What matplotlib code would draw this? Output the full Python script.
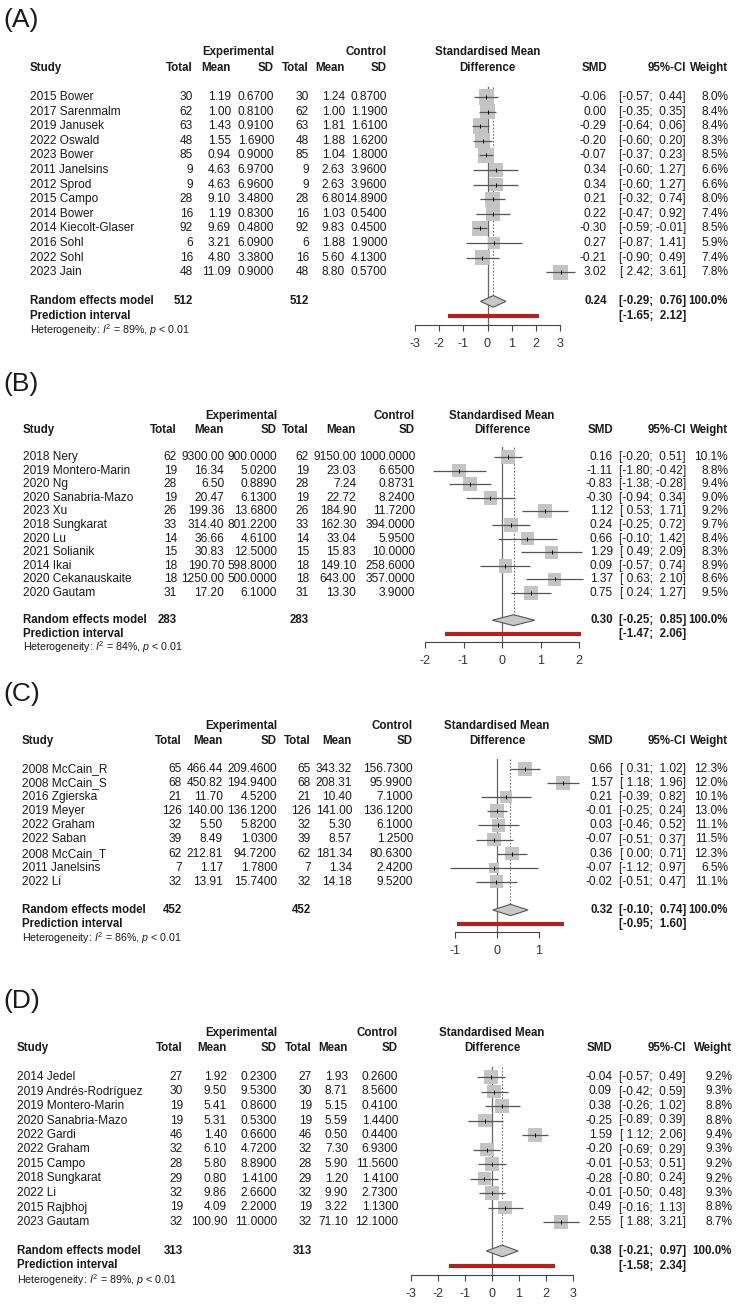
import matplotlib
matplotlib.use("Agg")
import numpy as np
import matplotlib.pyplot as plt
from matplotlib.patches import Polygon

plt.rcParams['font.family'] = ['Liberation Sans', 'DejaVu Sans']
plt.rcParams['mathtext.fontset'] = 'custom'
plt.rcParams['mathtext.rm'] = 'Liberation Sans'
plt.rcParams['mathtext.it'] = 'Liberation Sans:italic'
plt.rcParams['axes.unicode_minus'] = False

# ---- Panel A ----
a_study = ["2015 Bower", "2017 Sarenmalm", "2019 Janusek", "2022 Oswald", "2023 Bower",
           "2011 Janelsins", "2012 Sprod", "2015 Campo", "2014 Bower", "2014 Kiecolt-Glaser",
           "2016 Sohl", "2022 Sohl", "2023 Jain"]
a_n = [30, 62, 63, 48, 85, 9, 9, 28, 16, 92, 6, 16, 48]  # same n in both arms
a_mean_e = [1.19, 1.00, 1.43, 1.55, 0.94, 4.63, 4.63, 9.10, 1.19, 9.69, 3.21, 4.80, 11.09]
a_sd_e = [0.67, 0.81, 0.91, 1.69, 0.90, 6.97, 6.96, 3.48, 0.83, 0.48, 6.09, 3.38, 0.90]
a_mean_c = [1.24, 1.00, 1.81, 1.88, 1.04, 2.63, 2.63, 6.80, 1.03, 9.83, 1.88, 5.60, 8.80]
a_sd_c = [0.87, 1.19, 1.61, 1.62, 1.80, 3.96, 3.96, 14.89, 0.54, 0.45, 1.90, 4.13, 0.57]
a_smd = [-0.06, 0.00, -0.29, -0.20, -0.07, 0.34, 0.34, 0.21, 0.22, -0.30, 0.27, -0.21, 3.02]
a_lo = [-0.57, -0.35, -0.64, -0.60, -0.37, -0.60, -0.60, -0.32, -0.47, -0.59, -0.87, -0.90, 2.42]
a_hi = [0.44, 0.35, 0.06, 0.20, 0.23, 1.27, 1.27, 0.74, 0.92, -0.01, 1.41, 0.49, 3.61]
a_w = [8.0, 8.4, 8.4, 8.3, 8.5, 6.6, 6.6, 8.0, 7.4, 8.5, 5.9, 7.4, 7.8]
a_pool = [0.24, -0.29, 0.76]
a_pred = [-1.65, 2.12]
a_i2 = 89

# ---- Panel B ----
b_study = ["2018 Nery", "2019 Montero-Marin", "2020 Ng", "2020 Sanabria-Mazo", "2023 Xu",
           "2018 Sungkarat", "2020 Lu", "2021 Solianik", "2014 Ikai", "2020 Cekanauskaite",
           "2020 Gautam"]
b_n = [62, 19, 28, 19, 26, 33, 14, 15, 18, 18, 31]
b_mean_e = [9300.00, 16.34, 6.50, 20.47, 199.36, 314.40, 36.66, 30.83, 190.70, 1250.00, 17.20]
b_sd_e = [900.0, 5.02, 0.889, 6.13, 13.68, 801.22, 4.61, 12.50, 598.80, 500.0, 6.10]
b_mean_c = [9150.00, 23.03, 7.24, 22.72, 184.90, 162.30, 33.04, 15.83, 149.10, 643.00, 13.30]
b_sd_c = [1000.0, 6.65, 0.8731, 8.24, 11.72, 394.0, 5.95, 10.0, 258.60, 357.0, 3.90]
b_smd = [0.16, -1.11, -0.83, -0.30, 1.12, 0.24, 0.66, 1.29, 0.09, 1.37, 0.75]
b_lo = [-0.20, -1.80, -1.38, -0.94, 0.53, -0.25, -0.10, 0.49, -0.57, 0.63, 0.24]
b_hi = [0.51, -0.42, -0.28, 0.34, 1.71, 0.72, 1.42, 2.09, 0.74, 2.10, 1.27]
b_w = [10.1, 8.8, 9.4, 9.0, 9.2, 9.7, 8.4, 8.3, 8.9, 8.6, 9.5]
b_pool = [0.30, -0.25, 0.85]
b_pred = [-1.47, 2.06]
b_i2 = 84

# ---- Panel C ----
c_study = ["2008 McCain_R", "2008 McCain_S", "2016 Zgierska", "2019 Meyer", "2022 Graham",
           "2022 Saban", "2008 McCain_T", "2011 Janelsins", "2022 Li"]
c_n = [65, 68, 21, 126, 32, 39, 62, 7, 32]
c_mean_e = [466.44, 450.82, 11.70, 140.00, 5.50, 8.49, 212.81, 1.17, 13.91]
c_sd_e = [209.46, 194.94, 4.52, 136.12, 5.82, 1.03, 94.72, 1.78, 15.74]
c_mean_c = [343.32, 208.31, 10.40, 141.00, 5.30, 8.57, 181.34, 1.34, 14.18]
c_sd_c = [156.73, 95.99, 7.10, 136.12, 6.10, 1.25, 80.63, 2.42, 9.52]
c_smd = [0.66, 1.57, 0.21, -0.01, 0.03, -0.07, 0.36, -0.07, -0.02]
c_lo = [0.31, 1.18, -0.39, -0.25, -0.46, -0.51, 0.00, -1.12, -0.51]
c_hi = [1.02, 1.96, 0.82, 0.24, 0.52, 0.37, 0.71, 0.97, 0.47]
c_w = [12.3, 12.0, 10.1, 13.0, 11.1, 11.5, 12.3, 6.5, 11.1]
c_pool = [0.32, -0.10, 0.74]
c_pred = [-0.95, 1.60]
c_i2 = 86

# ---- Panel D ----
d_study = ["2014 Jedel", "2019 Andrés-Rodríguez", "2019 Montero-Marin", "2020 Sanabria-Mazo",
           "2022 Gardi", "2022 Graham", "2015 Campo", "2018 Sungkarat", "2022 Li",
           "2015 Rajbhoj", "2023 Gautam"]
d_n = [27, 30, 19, 19, 46, 32, 28, 29, 32, 19, 32]
d_mean_e = [1.92, 9.50, 5.41, 5.31, 1.40, 6.10, 5.80, 0.80, 9.86, 4.09, 100.90]
d_sd_e = [0.23, 9.53, 0.86, 0.53, 0.66, 4.72, 8.89, 1.41, 2.66, 2.20, 11.00]
d_mean_c = [1.93, 8.71, 5.15, 5.59, 0.50, 7.30, 5.90, 1.20, 9.90, 3.22, 71.10]
d_sd_c = [0.26, 8.56, 0.41, 1.44, 0.44, 6.93, 11.56, 1.41, 2.73, 1.13, 12.10]
d_smd = [-0.04, 0.09, 0.38, -0.25, 1.59, -0.20, -0.01, -0.28, -0.01, 0.49, 2.55]
d_lo = [-0.57, -0.42, -0.26, -0.89, 1.12, -0.69, -0.53, -0.80, -0.50, -0.16, 1.88]
d_hi = [0.49, 0.59, 1.02, 0.39, 2.06, 0.29, 0.51, 0.24, 0.48, 1.13, 3.21]
d_w = [9.2, 9.3, 8.8, 8.8, 9.4, 9.3, 9.2, 9.2, 9.3, 8.8, 8.7]
d_pool = [0.38, -0.21, 0.97]
d_pred = [-1.58, 2.34]
d_i2 = 89

W, H = 745, 1310
TXT = '#1a1a1a'
FS = 8.6     # regular table text
FSB = 8.3    # bold header / pooled text

fig = plt.figure(figsize=(W / 100, H / 100), dpi=100)
bg = fig.add_axes([0, 0, 1, 1])
bg.set_xlim(0, W)
bg.set_ylim(H, 0)
bg.axis('off')


def txt(x, y, s, ha='right', bold=False, size=None):
    if size is None:
        size = FSB if bold else FS
    bg.text(x, y, s, ha=ha, va='center', fontsize=size, color=TXT,
            fontweight='bold' if bold else 'normal')


def ci_str(lo, hi):
    return "[{:5.2f}; {:5.2f}]".format(lo, hi)


# Function to draw one forest plot panel (table on the left, plot, stats on the right)
def draw_panel(label, study, n, mean_e, sd_e, mean_c, sd_c, smd, lo, hi, w, pool, pred, i2, lay):
    y0, dy = lay['y0'], lay['dy']
    sx = lay['sx']
    ne, me, se, nc, mc, sc = lay['cols']
    k = len(study)

    # header
    h1, h2 = y0 - 3.05 * dy, y0 - 2.0 * dy
    bg.text(3, h1 - 32, label, ha='left', va='center', fontsize=19, color=TXT)
    txt(se, h1, "Experimental", bold=True)
    txt(sc, h1, "Control", bold=True)
    txt(sx, h2, "Study", ha='left', bold=True)
    for x, s in zip([ne, me, se, nc, mc, sc], ["Total", "Mean", "SD", "Total", "Mean", "SD"]):
        txt(x, h2, s, bold=True)
    txt(lay['z'], h1, "Standardised Mean", ha='center', bold=True)
    txt(lay['z'], h2, "Difference", ha='center', bold=True)
    txt(lay['smd_r'], h2, "SMD", bold=True)
    txt(lay['ci_r'], h2, "95%-CI", bold=True)
    txt(lay['w_r'], h2, "Weight", bold=True)

    # study rows
    for i in range(k):
        y = y0 + i * dy
        txt(sx, y, study[i], ha='left')
        txt(ne, y, "%d" % n[i])
        txt(me, y, "%.2f" % mean_e[i])
        txt(se, y, "%.4f" % sd_e[i])
        txt(nc, y, "%d" % n[i])
        txt(mc, y, "%.2f" % mean_c[i])
        txt(sc, y, "%.4f" % sd_c[i])
        txt(lay['smd_r'], y, "%.2f" % smd[i])
        txt(lay['ci_r'], y, ci_str(lo[i], hi[i]))
        txt(lay['w_r'], y, "%.1f%%" % w[i])

    # pooled rows
    yr = y0 + (k + 1) * dy
    txt(sx, yr, "Random effects model", ha='left', bold=True)
    txt(ne, yr, "%d" % sum(n), bold=True)
    txt(nc, yr, "%d" % sum(n), bold=True)
    txt(lay['smd_r'], yr, "%.2f" % pool[0], bold=True)
    txt(lay['ci_r'], yr, ci_str(pool[1], pool[2]), bold=True)
    txt(lay['w_r'], yr, "100.0%", bold=True)
    txt(sx, yr + dy, "Prediction interval", ha='left', bold=True)
    txt(lay['ci_r'], yr + dy, ci_str(pred[0], pred[1]), bold=True)
    txt(sx, yr + 2 * dy, r"Heterogeneity: $I^2$ = %d%%, $p$ < 0.01" % i2, ha='left', size=7.7)

    # forest axes, rows in data units
    z, u = lay['z'], lay['u']
    xlo, xhi = lay['xlim']
    top_px = y0 - dy
    ax_y = lay['axis_y']
    fa = fig.add_axes([(z + xlo * u) / W, 1 - ax_y / H, (xhi - xlo) * u / W, (ax_y - top_px) / H])
    ybot = (ax_y - y0) / dy
    fa.set_xlim(xlo, xhi)
    fa.set_ylim(ybot, -1)
    fa.patch.set_alpha(0)
    for s in ['top', 'right', 'left']:
        fa.spines[s].set_visible(False)
    ticks = lay['ticks']
    fa.spines['bottom'].set_bounds(ticks[0], ticks[-1])
    fa.spines['bottom'].set_color('#444444')
    fa.spines['bottom'].set_linewidth(0.8)
    fa.set_xticks(ticks)
    fa.set_xticklabels([str(t) for t in ticks])
    fa.set_yticks([])
    fa.tick_params(axis='x', direction='out', length=4.5, width=0.8, colors='#444444',
                   labelsize=9, pad=5, labelcolor='#333333')

    rows = np.arange(k)
    wa = np.array(w)
    side = lay['sq'] * np.sqrt(wa / wa.max()) * 0.72
    fa.plot([0, 0], [-0.7, ybot], color='#666666', lw=0.9, clip_on=False, zorder=1)
    fa.plot([pool[0], pool[0]], [-0.7, k + 0.6], color='#777777', lw=0.8,
            ls=(0, (1.5, 1.5)), zorder=1)
    fa.scatter(smd, rows, s=side ** 2, marker='s', color='#c4c4c4', linewidths=0, zorder=2)
    fa.hlines(rows, lo, hi, color='#555555', lw=0.9, zorder=3)
    fa.plot(smd, rows, ls='none', marker='|', ms=3, mew=0.7, color='black', zorder=4)

    r = k + 1
    dia = Polygon([(pool[1], r), (pool[0], r - 0.4), (pool[2], r), (pool[0], r + 0.4)],
                  closed=True, facecolor='#c8c8c8', edgecolor='#555555', lw=0.8, zorder=3)
    fa.add_patch(dia)
    fa.plot(pred, [r + 1, r + 1], color='#b22222', lw=3, solid_capstyle='butt', zorder=3)


lay_a = dict(y0=97, dy=14.6, sx=30, cols=[193, 231, 274, 309, 345, 387],
             smd_r=607, ci_r=686, w_r=728, z=487.5, u=24.2, xlim=(-3.4, 3.9),
             ticks=[-3, -2, -1, 0, 1, 2, 3], axis_y=325, sq=15.5)
lay_b = dict(y0=457, dy=13.6, sx=23, cols=[177, 224, 277, 309, 356, 415],
             smd_r=613, ci_r=686, w_r=728, z=502, u=38.5, xlim=(-2.3, 2.3),
             ticks=[-2, -1, 0, 1, 2], axis_y=642, sq=14.5)
lay_c = dict(y0=769, dy=14.1, sx=22, cols=[182, 223, 277, 311, 352, 413],
             smd_r=613, ci_r=686, w_r=728, z=497, u=42, xlim=(-1.3, 2.1),
             ticks=[-1, 0, 1], axis_y=932, sq=14)
lay_d = dict(y0=1077, dy=14.5, sx=17, cols=[183, 227, 277, 312, 348, 398],
             smd_r=612, ci_r=686, w_r=732, z=492, u=27, xlim=(-3.3, 3.5),
             ticks=[-3, -2, -1, 0, 1, 2, 3], axis_y=1275, sq=14)

draw_panel("(A)", a_study, a_n, a_mean_e, a_sd_e, a_mean_c, a_sd_c, a_smd, a_lo, a_hi, a_w,
           a_pool, a_pred, a_i2, lay_a)
draw_panel("(B)", b_study, b_n, b_mean_e, b_sd_e, b_mean_c, b_sd_c, b_smd, b_lo, b_hi, b_w,
           b_pool, b_pred, b_i2, lay_b)
draw_panel("(C)", c_study, c_n, c_mean_e, c_sd_e, c_mean_c, c_sd_c, c_smd, c_lo, c_hi, c_w,
           c_pool, c_pred, c_i2, lay_c)
draw_panel("(D)", d_study, d_n, d_mean_e, d_sd_e, d_mean_c, d_sd_c, d_smd, d_lo, d_hi, d_w,
           d_pool, d_pred, d_i2, lay_d)

fig.savefig("out.png", dpi=100)
